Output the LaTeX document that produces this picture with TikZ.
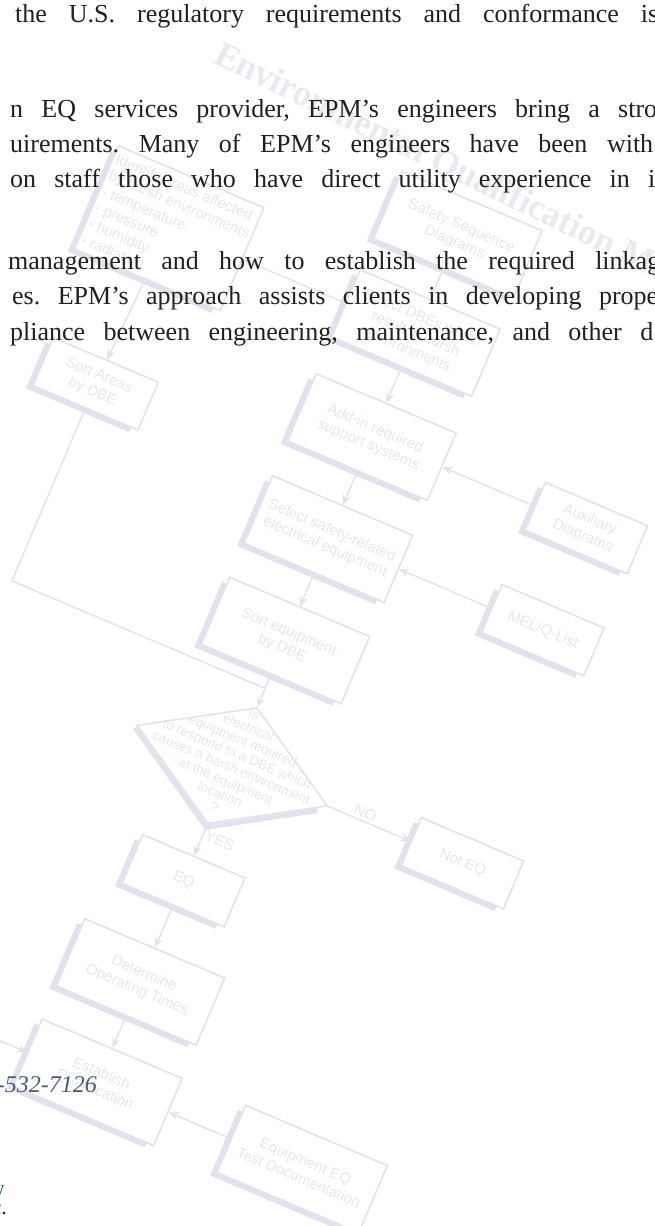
\documentclass[tikz,border=0pt]{standalone}
\usepackage{fontspec}
\setmainfont{Liberation Serif}
\setsansfont{Liberation Sans}
\usetikzlibrary{arrows.meta,shapes.geometric,calc}
\definecolor{inkbody}{RGB}{35,31,32}
\definecolor{inkphone}{RGB}{76,92,110}
\definecolor{inkweb}{RGB}{30,76,140}
\definecolor{wmline}{RGB}{224,227,235}
\definecolor{wmtext}{RGB}{229,231,237}
\definecolor{wmtitle}{RGB}{232,234,240}
\frenchspacing
\tikzset{
  bodyline/.style={anchor=base west,inner sep=0pt,text=inkbody,font=\fontsize{26}{30}\selectfont},
  wmbox/.style={draw=wmline,line width=1.6pt,minimum width=152pt,minimum height=73pt,inner sep=2pt,align=center,text=wmtext,font=\sffamily\fontsize{15}{17.5}\selectfont},
  wmsmall/.style={wmbox,minimum width=111pt,minimum height=52pt},
  wmdiamond/.style={wmbox,diamond,minimum width=207pt,minimum height=126pt,inner sep=0pt,font=\sffamily\fontsize{13.5}{14.6}\selectfont},
  wmarrow/.style={draw=wmline,line width=1.4pt,->},
  wmshadow/.style={draw=wmline,line width=5pt},
  wmlabel/.style={text=wmtext,font=\sffamily\fontsize{15}{17.5}\selectfont,inner sep=2pt},
}
\begin{document}
\begin{tikzpicture}[x=1pt,y=-1pt,>={Stealth[length=10pt,width=8pt]}]
  \useasboundingbox (0,0) rectangle (655,1226);
  % title of the watermark
  \node[anchor=base west,rotate=-26,inner sep=0pt,text=wmtitle,font=\bfseries\fontsize{36}{40}\selectfont] (title) at (212,62) {Environmental Qualification Me};
  % faded flow chart
  \begin{scope}[rotate=-23,transform shape]
    \node[wmbox] (safety) at (513,37) {Safety Sequence\\Diagrams};
    \node[wmbox] (dbes) at (513,144) {Select DBEs which\\result in harsh\\environments};
    \node[wmbox,minimum width=158pt,minimum height=112pt,align=left] (areas) at (245,144) {Identify areas affected\\by harsh environments\\- temperature\\- pressure\\- humidity\\- radiation};
    \node[wmsmall,minimum width=114pt] (sortareas) at (238,316) {Sort Areas\\by DBE};
    \node[wmbox] (addin) at (513,257) {Add-in required\\support systems};
    \node[wmsmall] (aux) at (746,257) {Auxiliary\\Diagrams};
    \node[wmbox] (select) at (513,368) {Select safety-related\\electrical equipment};
    \node[wmsmall] (mel) at (746,368) {MEL/Q-List};
    \node[wmbox] (sortdbe) at (513,478) {Sort equipment\\by DBE};
    \node[wmdiamond] (harsh) at (513,614) {\makebox[0pt]{\smash{\begin{tabular}{@{}c@{}}Is\\electrical\\equipment required\\to respond to a DBE which\\causes a harsh environment\\at the equipment\\location\\?\end{tabular}}}};
    \node[wmsmall] (noteq) at (763,614) {Not EQ};
    \node[wmsmall,minimum height=53pt] (eq) at (513,739) {EQ};
    \node[wmbox] (optimes) at (513,849) {Determine\\Operating Times};
    \node[wmbox] (establish) at (513,958) {Establish\\Qualification};
    \node[wmbox,minimum width=154pt] (testdoc) at (735,958) {Equipment EQ\\Test Documentation};
    \coordinate (bend) at (238,530);
    \coordinate (join) at (513,530);
    \coordinate (leftin) at (330,958);
    % shadows
    \foreach \n in {safety,dbes,areas,sortareas,addin,aux,select,mel,sortdbe,noteq,eq,optimes,establish,testdoc}
      \draw[wmshadow] ($(\n.north west)+(-2,8)$) -- ($(\n.south west)+(-2,2)$) -- ($(\n.south east)+(-8,2)$);
    \draw[wmshadow] ($(harsh.west)+(0,3)$) -- ($(harsh.south)+(0,3)$) -- ($(harsh.south)!0.92!(harsh.east)+(0,3)$);
    % connectors
    \draw[wmarrow] (safety) -- (dbes);
    \draw[wmarrow] (dbes) -- (areas);
    \draw[wmarrow] (dbes) -- (addin);
    \draw[wmarrow] (areas) -- (sortareas);
    \draw[wmarrow] (aux) -- (addin);
    \draw[wmarrow] (addin) -- (select);
    \draw[wmarrow] (mel) -- (select);
    \draw[wmarrow] (select) -- (sortdbe);
    \draw[wmarrow] (sortdbe) -- (harsh);
    \draw[draw=wmline,line width=1.4pt] (sortareas.south) -- (bend) -- (join);
    \draw[wmarrow] (harsh.east) -- (noteq) node[wmlabel,midway,above,xshift=-8pt] {NO};
    \draw[wmarrow] (harsh.south) -- (eq) node[wmlabel,pos=0.3,right] {YES};
    \draw[wmarrow] (eq) -- (optimes);
    \draw[wmarrow] (optimes) -- (establish);
    \draw[wmarrow] (testdoc) -- (establish);
    \draw[wmarrow] (leftin) -- (establish);
  \end{scope}
  % body text
  \node[bodyline] (line1) at (15,23) {\makebox[643pt][s]{the U.S. regulatory requirements and conformance is}};
  \node[bodyline] (line2) at (10,117) {\makebox[647pt][s]{n EQ services provider, EPM’s engineers bring a stro}};
  \node[bodyline] (line3) at (10,152) {\makebox[643pt][s]{uirements. Many of EPM’s engineers have been with}};
  \node[bodyline] (line4) at (10,187) {\makebox[645pt][s]{on staff those who have direct utility experience in i}};
  \node[bodyline] (line5) at (8,269) {\makebox[652pt][s]{management and how to establish the required linkag}};
  \node[bodyline] (line6) at (12,304) {\makebox[646pt][s]{es. EPM’s approach assists clients in developing prope}};
  \node[bodyline] (line7) at (10,340) {\makebox[643pt][s]{pliance between engineering, maintenance, and other d}};
  \node[anchor=base east,inner sep=0pt,text=inkphone,font=\itshape\fontsize{24}{28}\selectfont] (phone) at (97,1092) {2-532-7126};
  \node[anchor=base east,inner sep=0pt,text=inkweb,font=\fontsize{22}{26}\selectfont] (web) at (5,1195) {w};
  \node[anchor=base east,inner sep=0pt,text=inkbody,font=\fontsize{22}{26}\selectfont] (inc) at (7,1214) {c.};
\end{tikzpicture}
\end{document}
